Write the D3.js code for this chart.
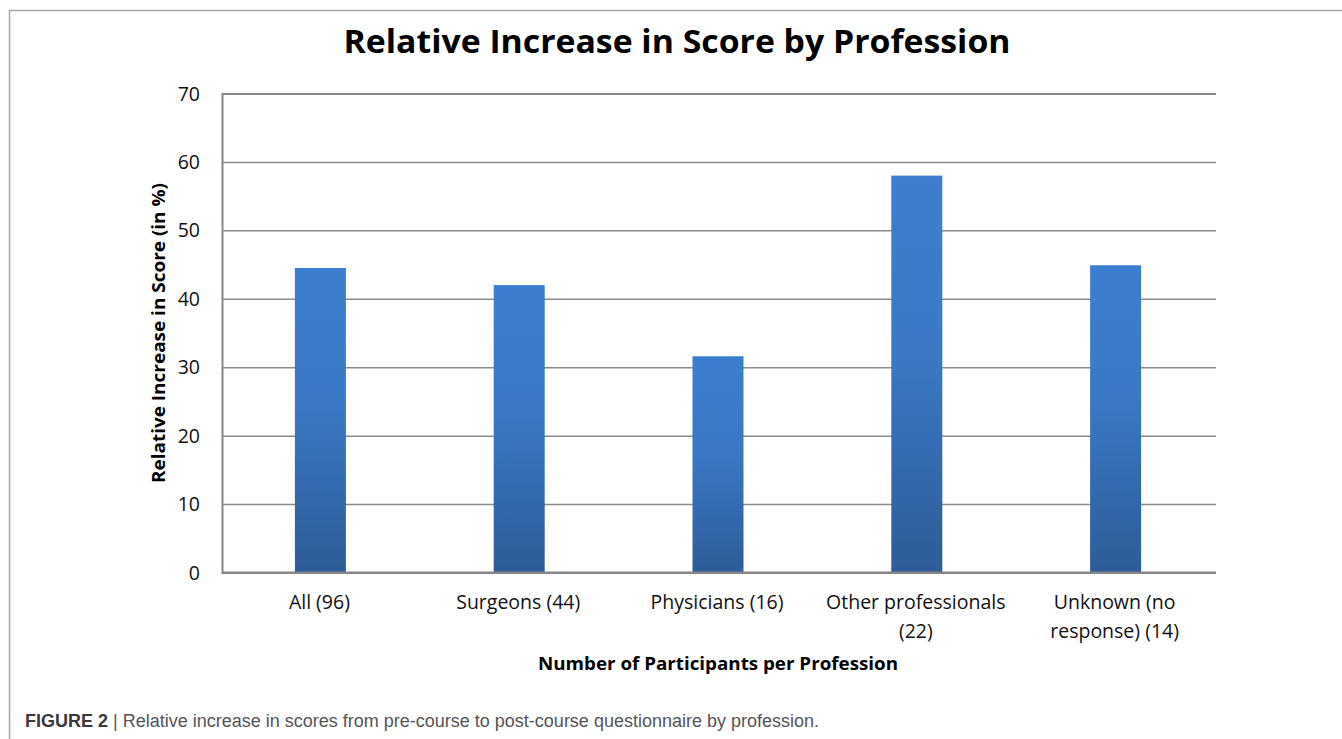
<!DOCTYPE html>
<html><head><meta charset="utf-8">
<script src="https://cdn.jsdelivr.net/npm/d3@7"></script>
<style>
html,body{margin:0;padding:0;background:#fff;}
svg{display:block;}
</style></head>
<body>
<svg id="chart" width="1342" height="739"></svg>
<script>
const categories = [["All (96)"], ["Surgeons (44)"], ["Physicians (16)"], ["Other professionals", "(22)"], ["Unknown (no", "response) (14)"]];
const values = [44.5, 42.0, 31.6, 58.0, 44.9];
const yTicks = [0, 10, 20, 30, 40, 50, 60, 70];

const svg = d3.select("#chart");
const W = 1342, H = 739;
const m = {left: 222, right: 1216, top: 93.5, bottom: 572.5};
const font = "'Open Sans', Lato, sans-serif";

// outer frame (left and top lines)
svg.append("path").attr("d", `M9.5,${H} V10.5 H${W}`).attr("fill","none").attr("stroke","#a6a6a6").attr("stroke-width",1.5);

const x = d3.scaleBand().domain(d3.range(categories.length)).range([m.left, m.right]).paddingInner(0).paddingOuter(0);
const y = d3.scaleLinear().domain([0, 70]).range([m.bottom, m.top]);

const defs = svg.append("defs");
const grad = defs.append("linearGradient").attr("id","barGrad").attr("x1",0).attr("y1",0).attr("x2",0).attr("y2",1);
grad.append("stop").attr("offset","0%").attr("stop-color","#3c7ecf");
grad.append("stop").attr("offset","45%").attr("stop-color","#3a78c4");
grad.append("stop").attr("offset","100%").attr("stop-color","#2d5c98");

// gridlines
const yAxis = d3.axisLeft(y).tickValues(yTicks).tickSize(-(m.right - m.left)).tickPadding(22);
const gy = svg.append("g").attr("transform", `translate(${m.left},0)`).call(yAxis);
gy.select(".domain").attr("stroke","#868686").attr("stroke-width",2);
gy.selectAll(".tick line").attr("stroke","#8c8c8c").attr("stroke-width",1.5);
gy.selectAll(".tick text").attr("font-family", font).attr("font-size", 19.5).attr("fill","#111").attr("dy","0.34em");

// bars
const barW = 51;
svg.append("g").selectAll("rect").data(values).join("rect")
  .attr("x", (d,i) => x(i) + x.bandwidth()/2 - barW/2 - 1)
  .attr("width", barW)
  .attr("y", d => y(d))
  .attr("height", d => y(0) - y(d))
  .attr("fill","url(#barGrad)");

// x axis baseline
svg.append("line").attr("x1", m.left).attr("x2", m.right).attr("y1", y(0)).attr("y2", y(0)).attr("stroke","#868686").attr("stroke-width",2);

// x labels
const xl = svg.append("g").selectAll("text").data(categories).join("text")
  .attr("x", (d,i) => x(i) + x.bandwidth()/2 - 2)
  .attr("y", 609)
  .attr("text-anchor","middle")
  .attr("font-family", font).attr("font-size", 19.5).attr("fill","#111");
xl.each(function(lines){
  const t = d3.select(this);
  lines.forEach((s, j) => t.append("tspan").attr("x", t.attr("x")).attr("dy", j === 0 ? 0 : 29).text(s));
});

// title
svg.append("text").attr("x", 677).attr("y", 53).attr("text-anchor","middle")
  .attr("font-family", font).attr("font-weight","bold").attr("font-size", 33).attr("fill","#000")
  .attr("textLength", 667).attr("lengthAdjust","spacingAndGlyphs")
  .text("Relative Increase in Score by Profession");

// axis titles
svg.append("text").attr("transform","translate(165,333) rotate(-90)").attr("text-anchor","middle")
  .attr("font-family", font).attr("font-weight","bold").attr("font-size", 18).attr("fill","#000")
  .attr("textLength", 300).attr("lengthAdjust","spacingAndGlyphs")
  .text("Relative Increase in Score (in %)");
svg.append("text").attr("x", 718).attr("y", 670).attr("text-anchor","middle")
  .attr("font-family", font).attr("font-weight","bold").attr("font-size", 18).attr("fill","#000")
  .attr("textLength", 360).attr("lengthAdjust","spacingAndGlyphs")
  .text("Number of Participants per Profession");

// caption
const cap = svg.append("text").attr("x", 25).attr("y", 727).attr("font-family","'Liberation Sans', Arial, sans-serif").attr("font-size", 18);
cap.append("tspan").attr("font-weight","bold").attr("fill","#3a3a3a").text("FIGURE 2");
cap.append("tspan").attr("fill","#555").text(" | Relative increase in scores from pre-course to post-course questionnaire by profession.");
</script>
</body></html>
